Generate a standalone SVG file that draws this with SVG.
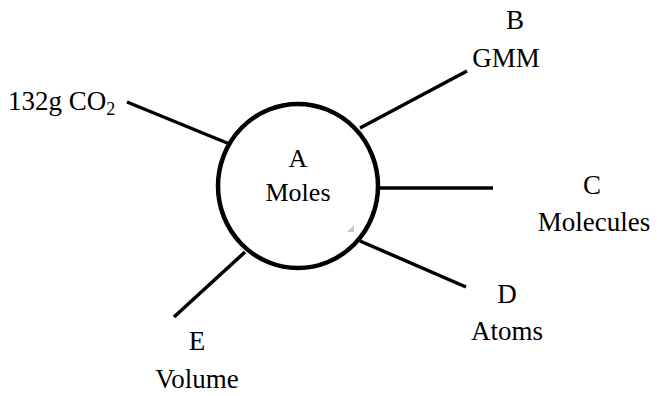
<svg xmlns="http://www.w3.org/2000/svg" width="657" height="396" viewBox="0 0 657 396">
  <style>
    .edge { stroke: #000; stroke-width: 3.5; stroke-linecap: butt; fill: none; }
  </style>
  <rect width="657" height="396" fill="#fff"/>

  <!-- spokes -->
  <g id="connectors">
    <line class="edge" x1="127" y1="102" x2="232" y2="145"/>
    <line class="edge" x1="467" y1="71" x2="360" y2="128"/>
    <line class="edge" x1="380" y1="188" x2="493" y2="188" stroke-width="4.5"/>
    <line class="edge" x1="360" y1="241" x2="466" y2="287"/>
    <line class="edge" x1="245" y1="252" x2="174" y2="317"/>
  </g>

  <g font-family="'Liberation Serif', serif" font-size="27" fill="#000" text-anchor="middle">
    <!-- hub -->
    <g id="A">
      <ellipse cx="298" cy="186" rx="80" ry="82" fill="#fff" stroke="#000" stroke-width="4.5"/>
      <text x="298" y="167" font-size="26">A</text>
      <text x="298" y="201" font-size="26">Moles</text>
      <polygon points="354,225 354,232 347,232" fill="#c8c8c8"/>
    </g>

    <g id="CO2">
      <text x="8" y="110" text-anchor="start">132g CO<tspan font-size="18" dy="5">2</tspan></text>
    </g>

    <g id="B">
      <text x="515" y="29">B</text>
      <text x="506" y="67">GMM</text>
    </g>

    <g id="C">
      <text x="592" y="194">C</text>
      <text x="594" y="231">Molecules</text>
    </g>

    <g id="D">
      <text x="507" y="303">D</text>
      <text x="507" y="340">Atoms</text>
    </g>

    <g id="E">
      <text x="197" y="350">E</text>
      <text x="197" y="388">Volume</text>
    </g>
  </g>
</svg>
